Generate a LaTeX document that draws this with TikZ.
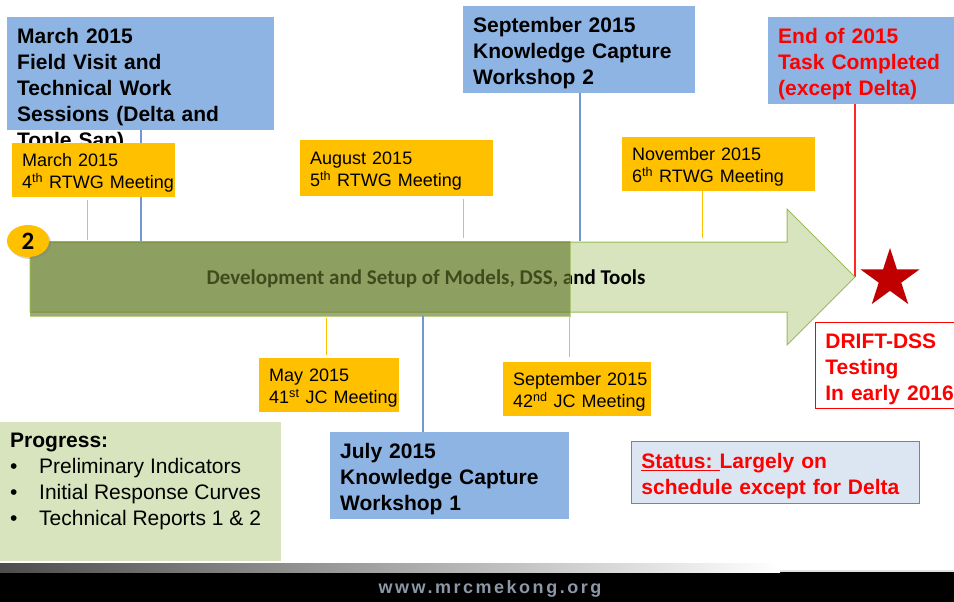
\documentclass[tikz,border=0pt]{standalone}
\usepackage{fontspec}
\setmainfont{Liberation Sans}
\newfontfamily\calibri{Carlito}
\usepackage{xcolor}
\usepackage{tikz}
\usetikzlibrary{shapes.geometric, shadows}
\definecolor{boxblue}{HTML}{8EB4E3}
\definecolor{boxorange}{HTML}{FFC000}
\definecolor{linkblue}{HTML}{7297CF}
\definecolor{arrowgreen}{HTML}{D7E4BD}
\definecolor{arrowedge}{HTML}{9BBB59}
\definecolor{darkolive}{HTML}{64782E}
\definecolor{starred}{HTML}{C00000}
\definecolor{statusblue}{HTML}{DCE6F2}
\definecolor{footgray}{HTML}{8C97A8}

\begin{document}
\begin{tikzpicture}[x=1pt,y=-1pt,
  bluebox/.style={fill=boxblue,anchor=north west,align=left,inner xsep=10pt,inner ysep=0pt,font=\fontsize{21}{26}\selectfont\bfseries,execute at begin node={\rule{0pt}{22pt}}},
  orangebox/.style={fill=boxorange,anchor=north west,align=left,inner xsep=10pt,inner ysep=0pt,font=\fontsize{18}{22}\selectfont,execute at begin node={\rule{0pt}{19pt}}},
  orangeline/.style={draw=boxorange,line width=1pt},
  blueline/.style={draw=linkblue,line width=1.2pt}]
\useasboundingbox (0,0) rectangle (954,602);
\coordinate (t4) at (87,240);
\coordinate (tv) at (141,241);
\coordinate (t5) at (463,238);
\coordinate (tw2) at (580,241);
\coordinate (t6) at (702,238);
\coordinate (tip) at (855,277);
\coordinate (b41) at (326,318);
\coordinate (bw1) at (423,316);
\coordinate (b42) at (569,316);
\node[bluebox,minimum width=267pt,minimum height=113pt] (visitbox) at (7,17) {};
\node[bluebox,fill=none,inner xsep=0pt,text width=257pt] (visit) at (17,21) {March 2015\\Field Visit and\\Technical Work\\Sessions (Delta and\\Tonle Sap)};
\draw[blueline] (visitbox.south -| tv) -- (tv);
\node[orangebox,minimum width=163pt,minimum height=54pt,text width=143pt] (rtwg4) at (12,143) {March 2015\\\mbox{4\textsuperscript{th} RTWG Meeting}};
\node[orangebox,minimum width=193pt,minimum height=56pt,text width=173pt] (rtwg5) at (300,140) {August 2015\\\mbox{5\textsuperscript{th} RTWG Meeting}};
\node[orangebox,minimum width=193pt,minimum height=54pt,text width=173pt] (rtwg6) at (622,137) {November 2015\\\mbox{6\textsuperscript{th} RTWG Meeting}};
\node[bluebox,minimum width=232pt,minimum height=87pt,text width=212pt] (ws2) at (463,6) {September 2015\\Knowledge Capture\\Workshop 2};
\node[bluebox,text=red,minimum width=186pt,minimum height=87pt,text width=166pt] (done) at (768,17) {End of 2015\\\mbox{Task Completed}\\(except Delta)};
\draw[orangeline,shorten <=3pt] (rtwg4.south -| t4) -- (t4);
\draw[orangeline,shorten <=3pt] (rtwg5.south -| t5) -- (t5);
\draw[orangeline] (rtwg6.south -| t6) -- (t6);
\draw[blueline] (ws2.south -| tw2) -- (tw2);
\draw[red!85,line width=1.2pt] (done.south -| tip) -- (tip);
\draw[fill=arrowgreen,draw=arrowedge,line width=1pt] (30,242) -- (787,242) -- (787,209) -- (855,277) -- (787,345) -- (787,312) -- (30,312) -- cycle;
\node[font=\calibri\bfseries\fontsize{21}{24}\selectfont] (task) at (426,279) {Development and Setup of Models, DSS, and Tools};
\draw[fill=darkolive,fill opacity=0.63,draw=arrowedge,draw opacity=0.7,line width=1pt] (30,241) rectangle (570,316);
\node[ellipse,fill=boxorange,minimum width=42pt,minimum height=32pt,inner sep=0pt,drop shadow={opacity=0.35,shadow xshift=2pt,shadow yshift=-2pt},font=\calibri\bfseries\fontsize{25}{25}\selectfont] (two) at (28,241) {2};
\node[star,star points=5,star point ratio=2.62,minimum size=62pt,inner sep=0pt,fill=starred] (star) at (890,279) {};
\node[orangebox,minimum width=140pt,minimum height=54pt,text width=120pt] (jc41) at (259,358) {May 2015\\\mbox{41\textsuperscript{st} JC Meeting}};
\node[orangebox,minimum width=148pt,minimum height=54pt,text width=128pt] (jc42) at (503,362) {\mbox{September 2015}\\\mbox{42\textsuperscript{nd} JC Meeting}};
\node[bluebox,minimum width=239pt,minimum height=87pt,text width=219pt] (ws1) at (330,432) {July 2015\\Knowledge Capture\\Workshop 1};
\draw[orangeline,shorten >=3pt] (b41) -- (b41 |- jc41.north);
\draw[blueline] (bw1) -- (bw1 |- ws1.north);
\draw[orangeline,shorten >=5pt] (b42) -- (b42 |- jc42.north);
\node[bluebox,fill=white,draw=red,text=red,line width=0.8pt,minimum width=150pt,minimum height=86pt,text width=130pt] (drift) at (815,322) {DRIFT-DSS\\Testing\\\mbox{In early 2016}};
\node[fill=arrowgreen,anchor=north west,minimum width=281pt,minimum height=139pt,inner sep=0pt] (progressbox) at (0,422) {};
\node[anchor=north west,align=left,inner sep=0pt,font=\fontsize{21}{26}\selectfont] (progress) at (10,433) {\textbf{Progress:}\\\makebox[29pt][l]{\textbullet}Preliminary Indicators\\\makebox[29pt][l]{\textbullet}Initial Response Curves\\\makebox[29pt][l]{\textbullet}Technical Reports 1 \& 2};
\node[bluebox,fill=statusblue,draw=red!70,line width=0.8pt,text=red,minimum width=288pt,minimum height=62pt,text width=268pt] (status) at (631,441) {\underline{Status:~}Largely on\\\mbox{schedule except for Delta}};
\fill[black] (0,572) rectangle (954,602);
\shade[left color=black!70,right color=white] (0,563) rectangle (780,572);
\fill[black!12] (780,570) rectangle (954,572);
\node[text=footgray,font=\bfseries\fontsize{18}{18}\selectfont\addfontfeature{LetterSpace=14}] (web) at (490,589) {www.mrcmekong.org};
\end{tikzpicture}
\end{document}
